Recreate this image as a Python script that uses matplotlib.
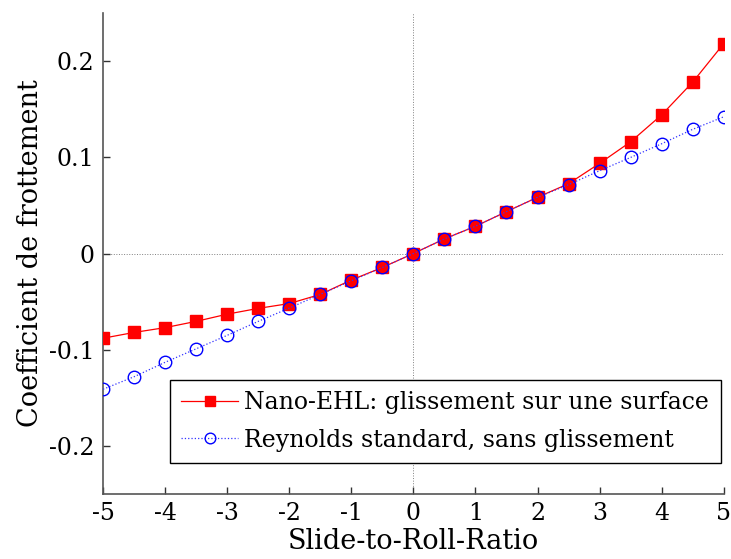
import matplotlib
matplotlib.use('Agg')
import matplotlib.pyplot as plt
from matplotlib.ticker import FuncFormatter

# taux glissement/roulement
srr = [-5, -4.5, -4, -3.5, -3, -2.5, -2, -1.5, -1, -0.5, 0,
       0.5, 1, 1.5, 2, 2.5, 3, 3.5, 4, 4.5, 5]

# coefficient de frottement, modele Nano-EHL (glissement sur une surface)
cf_nano = [-0.088, -0.082, -0.077, -0.0705, -0.063, -0.057, -0.052, -0.0425, -0.0275, -0.0145, 0.0,
           0.0152, 0.0283, 0.0435, 0.0584, 0.0725, 0.0936, 0.116, 0.144, 0.178, 0.218]

# coefficient de frottement, Reynolds standard (sans glissement)
cf_reyn = [-0.141, -0.128, -0.113, -0.099, -0.085, -0.0705, -0.0567, -0.0425, -0.0283, -0.0145, 0.0,
           0.0152, 0.0283, 0.0435, 0.0584, 0.0715, 0.086, 0.0998, 0.114, 0.129, 0.142]

plt.rcParams['font.family'] = ['DejaVu Serif']
plt.rcParams['axes.unicode_minus'] = False
fs = 17
fs_lab = 19.5

fig = plt.figure(figsize=(7.31, 5.59), dpi=100)
ax = fig.add_axes([0.141, 0.116, 0.849, 0.861])

ax.axhline(0, color='#808080', lw=0.7, ls=':', zorder=1)
ax.axvline(0, color='#808080', lw=0.7, ls=':', zorder=1)

ax.plot(srr, cf_nano, color='red', lw=0.9, marker='s', ms=8.5,
        mfc='red', mec='red', label='Nano-EHL: glissement sur une surface', zorder=3)
ax.plot(srr, cf_reyn, color='#3333ff', lw=0.9, ls=':', marker='o', ms=9,
        mfc='none', mec='blue', mew=1.0, label='Reynolds standard, sans glissement', zorder=4)

ax.set_xlim(-5, 5)
ax.set_ylim(-0.25, 0.25)
ax.set_xticks(range(-5, 6))
ax.set_yticks([-0.2, -0.1, 0, 0.1, 0.2])
ax.xaxis.set_major_formatter(FuncFormatter(lambda v, p: '%g' % v))
ax.yaxis.set_major_formatter(FuncFormatter(lambda v, p: '%g' % round(v, 2)))

for s in ['top', 'right']:
    ax.spines[s].set_visible(False)
for s in ['left', 'bottom']:
    ax.spines[s].set_color('#555555')
    ax.spines[s].set_linewidth(1.2)
ax.tick_params(direction='in', length=5, width=1, color='#333333', labelsize=fs, pad=6)

ax.set_xlabel('Slide-to-Roll-Ratio', fontsize=fs_lab, labelpad=2)
ax.set_ylabel('Coefficient de frottement', fontsize=fs_lab, labelpad=4)

leg = ax.legend(loc='lower right', bbox_to_anchor=(0.995, 0.064), fontsize=fs,
                fancybox=False, edgecolor='black', framealpha=1, handlelength=2.4,
                borderpad=0.5, labelspacing=0.6, handletextpad=0.25, borderaxespad=0,
                markerscale=0.85)
leg.get_frame().set_linewidth(1.0)

fig.savefig('out.png', dpi=100)
